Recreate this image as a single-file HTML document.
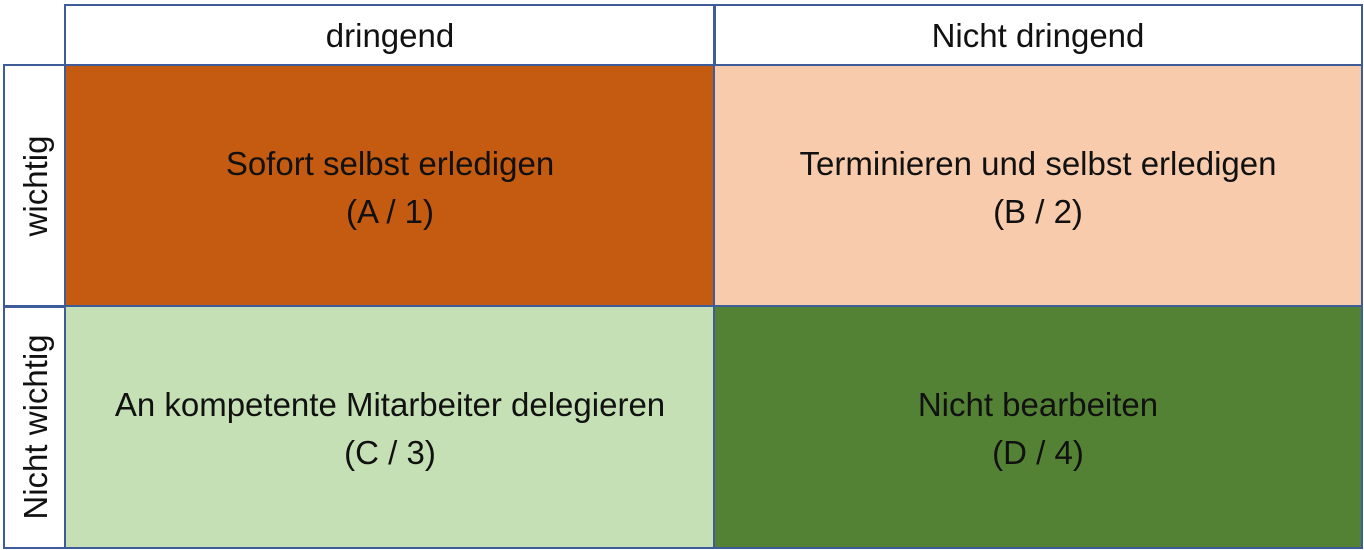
<!DOCTYPE html>
<html><head><style>
body{margin:0;width:1364px;height:550px;background:#fff;position:relative;font-family:"Liberation Sans",sans-serif;overflow:hidden}
.b{position:absolute;box-sizing:border-box;border:2px solid #3f5c9a;display:flex;align-items:center;justify-content:center;text-align:center;font-size:33px;color:#111;line-height:48px}
.v{position:absolute;font-size:33px;color:#111;transform:translate(-50%,-50%) rotate(-90deg);white-space:nowrap}
</style></head><body>
<div class="b" style="left:64px;top:4px;width:652px;height:63px">dringend</div>
<div class="b" style="left:713px;top:4px;width:650px;height:63px">Nicht dringend</div>
<div class="b" style="left:3px;top:64px;width:64px;height:244px"></div>
<div class="b" style="left:3px;top:305px;width:64px;height:244px"></div>
<div class="b" style="left:64px;top:64px;width:652px;height:244px;background:#c55a11;padding-top:4px">Sofort selbst erledigen<br>(A / 1)</div>
<div class="b" style="left:713px;top:64px;width:650px;height:244px;background:#f8cbad;padding-top:4px">Terminieren und selbst erledigen<br>(B / 2)</div>
<div class="b" style="left:64px;top:305px;width:652px;height:244px;background:#c5e0b4;padding-top:4px">An kompetente Mitarbeiter delegieren<br>(C / 3)</div>
<div class="b" style="left:713px;top:305px;width:650px;height:244px;background:#548235;padding-top:4px">Nicht bearbeiten<br>(D / 4)</div>
<div class="v" style="left:36px;top:186px">wichtig</div>
<div class="v" style="left:36px;top:427px">Nicht wichtig</div>
</body></html>
